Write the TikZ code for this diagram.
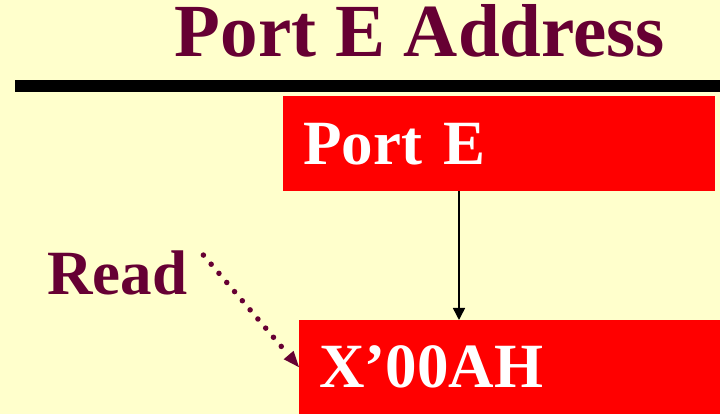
\documentclass[tikz,border=0pt]{standalone}
\usepackage{fontspec}
\setmainfont{Liberation Serif}
\usepackage{xcolor}
\usetikzlibrary{arrows.meta}
\definecolor{slidebg}{HTML}{FFFFCC}
\definecolor{maroon}{HTML}{660033}
\definecolor{boxred}{HTML}{FF0000}
\tikzset{
  redbox/.style={fill=boxred, text=white, anchor=north west, inner xsep=20pt,
    inner ysep=0pt, align=left, font=\fontsize{63}{63}\selectfont\bfseries},
  plaintext/.style={inner sep=0pt, text=maroon}
}

\begin{document}
\begin{tikzpicture}[x=1pt,y=1pt]
        \fill[slidebg] (0,0) rectangle (720,414);
        \useasboundingbox (0,0) rectangle (720,414);

        \node[plaintext, anchor=base, font=\fontsize{75}{75}\selectfont\bfseries]
            (title) at (420,357) {Port E Address};
        \fill[black] (15,322) rectangle (720,334);

        \node[redbox, text width=392pt, minimum height=95pt] (porte) at (283,318) {Port E};
        \node[redbox, text width=381pt, minimum height=94pt] (addr) at (299,94) {X’00AH};
        \node[plaintext, anchor=base west, font=\fontsize{63}{63}\selectfont\bfseries]
            (read) at (47,119) {Read};

        \coordinate (tap) at (459,0);
        \draw[line width=1.5pt, -{Triangle[length=12pt,width=12pt]}]
            (porte.south -| tap) -- (addr.north -| tap);
        \draw[maroon, line width=5.5pt, line cap=round, dash pattern=on 0pt off 12pt,
            -{Triangle[length=16pt,width=13pt,line width=0pt]}]
            ([xshift=16pt,yshift=-4pt]read.north east) -- (addr.west);
\end{tikzpicture}
\end{document}
